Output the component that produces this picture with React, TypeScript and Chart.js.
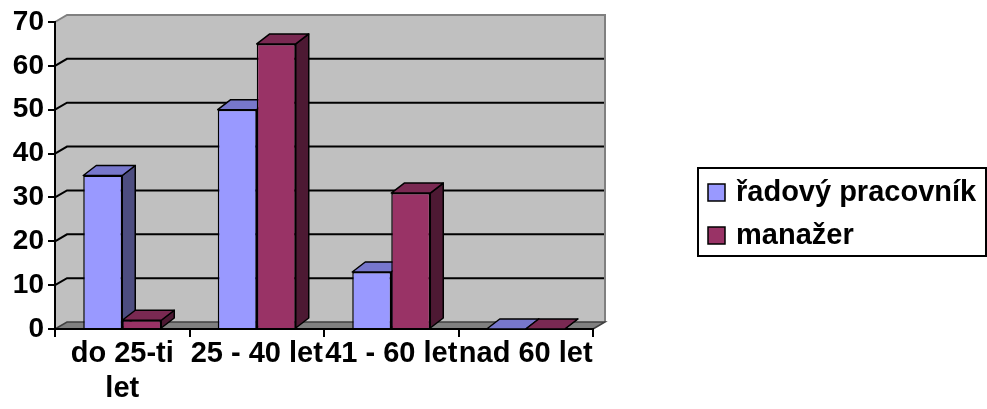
import React, { useEffect, useRef } from "react";
import { Chart, registerables } from "chart.js";

Chart.register(...registerables);

const categories: (string | string[])[] = [["do 25-ti", "let"], "25 - 40 let", "41 - 60 let", "nad 60 let"];
const seriesNames = ["řadový pracovník", "manažer"];
const radovyValues = [35, 50, 13, 0];
const manazerValues = [2, 65, 31, 0];
const yMin = 0;
const yMax = 70;
const yStep = 10;

const frontColors = ["#9999FF", "#993366"];
const topColors = ["#7777CC", "#7A2952"];
const sideColors = ["#4D4D80", "#4D1933"];

const FONT = "'Liberation Sans', Arial, sans-serif";
const WALL_DX = 12;
const WALL_DY = 7;
const BAR_DX = 13;
const BAR_DY = 10;

const wallPlugin = {
  id: "walls3d",
  beforeDraw(chart: any) {
    const { ctx, chartArea } = chart;
    const { left, right, top, bottom } = chartArea;
    const ys = chart.scales.y;
    ctx.save();
    ctx.fillStyle = "#C0C0C0";
    ctx.beginPath();
    ctx.moveTo(left, top);
    ctx.lineTo(left + WALL_DX, top - WALL_DY);
    ctx.lineTo(left + WALL_DX, bottom - WALL_DY);
    ctx.lineTo(left, bottom);
    ctx.closePath();
    ctx.fill();
    ctx.fillRect(left + WALL_DX, top - WALL_DY, right - left, bottom - top);
    ctx.fillStyle = "#808080";
    ctx.beginPath();
    ctx.moveTo(left, bottom);
    ctx.lineTo(left + WALL_DX, bottom - WALL_DY);
    ctx.lineTo(right + WALL_DX, bottom - WALL_DY);
    ctx.lineTo(right, bottom);
    ctx.closePath();
    ctx.fill();
    ctx.strokeStyle = "#000";
    ctx.lineWidth = 2;
    for (let v = yMin + yStep; v < yMax; v += yStep) {
      const y = ys.getPixelForValue(v);
      ctx.beginPath();
      ctx.moveTo(left, y);
      ctx.lineTo(left + WALL_DX, y - WALL_DY);
      ctx.lineTo(right + WALL_DX, y - WALL_DY);
      ctx.stroke();
    }
    ctx.strokeStyle = "#808080";
    ctx.lineWidth = 2;
    ctx.beginPath();
    ctx.moveTo(left, top);
    ctx.lineTo(left + WALL_DX, top - WALL_DY);
    ctx.lineTo(right + WALL_DX, top - WALL_DY);
    ctx.lineTo(right + WALL_DX, bottom - WALL_DY);
    ctx.stroke();
    ctx.strokeStyle = "#404040";
    ctx.lineWidth = 1.5;
    ctx.beginPath();
    ctx.moveTo(left, bottom);
    ctx.lineTo(left + WALL_DX, bottom - WALL_DY);
    ctx.lineTo(right + WALL_DX, bottom - WALL_DY);
    ctx.lineTo(right, bottom);
    ctx.stroke();
    ctx.restore();
  },
  beforeDatasetsDraw(chart: any) {
    const { ctx } = chart;
    ctx.save();
    ctx.strokeStyle = "#000";
    ctx.lineWidth = 1.5;
    ctx.lineJoin = "round";
    chart.data.datasets.forEach((_ds: any, di: number) => {
      const meta = chart.getDatasetMeta(di);
      meta.data.forEach((bar: any) => {
        const { x, y, base, width } = bar.getProps(["x", "y", "base", "width"], true);
        const l = x - width / 2;
        const r = x + width / 2;
        ctx.fillStyle = sideColors[di];
        ctx.beginPath();
        ctx.moveTo(r, y);
        ctx.lineTo(r + BAR_DX, y - BAR_DY);
        ctx.lineTo(r + BAR_DX, base - BAR_DY);
        ctx.lineTo(r, base);
        ctx.closePath();
        ctx.fill();
        ctx.stroke();
        ctx.fillStyle = topColors[di];
        ctx.beginPath();
        ctx.moveTo(l, y);
        ctx.lineTo(l + BAR_DX, y - BAR_DY);
        ctx.lineTo(r + BAR_DX, y - BAR_DY);
        ctx.lineTo(r, y);
        ctx.closePath();
        ctx.fill();
        ctx.stroke();
      });
    });
    ctx.restore();
  },
  afterDraw(chart: any) {
    const { ctx } = chart;
    ctx.save();
    const bx = 698, by = 168, bw = 288, bh = 88;
    ctx.strokeStyle = "#000";
    ctx.lineWidth = 2;
    ctx.strokeRect(bx, by, bw, bh);
    ctx.font = `bold 29px ${FONT}`;
    ctx.textBaseline = "alphabetic";
    ctx.textAlign = "left";
    chart.data.datasets.forEach((ds: any, i: number) => {
      const sy = by + 16 + i * 43;
      ctx.fillStyle = frontColors[i];
      ctx.fillRect(bx + 10, sy, 17, 17);
      ctx.lineWidth = 1.5;
      ctx.strokeRect(bx + 10, sy, 17, 17);
      ctx.fillStyle = "#000";
      ctx.fillText(ds.label, bx + 38, sy + 17);
    });
    ctx.restore();
  },
};

export default function App() {
  const ref = useRef<HTMLCanvasElement>(null);
  useEffect(() => {
    if (!ref.current) return;
    const chart = new Chart(ref.current, {
      type: "bar",
      data: {
        labels: categories,
        datasets: [
          {
            label: seriesNames[0],
            data: radovyValues,
            backgroundColor: frontColors[0],
            borderColor: "#000",
            borderWidth: 1.5,
            categoryPercentage: 0.58,
            barPercentage: 1,
          },
          {
            label: seriesNames[1],
            data: manazerValues,
            backgroundColor: frontColors[1],
            borderColor: "#000",
            borderWidth: 1.5,
            categoryPercentage: 0.58,
            barPercentage: 1,
          },
        ],
      },
      options: {
        animation: false,
        responsive: false,
        devicePixelRatio: 1,
        layout: { padding: { top: 22, right: 394, left: 0, bottom: 0 } },
        plugins: {
          legend: { display: false },
          tooltip: { enabled: false },
        },
        scales: {
          x: {
            offset: true,
            grid: {
              display: true,
              offset: true,
              drawOnChartArea: false,
              drawTicks: true,
              tickLength: 8,
              color: "#000",
              lineWidth: 2,
            },
            border: { display: true, color: "#000", width: 2 },
            ticks: {
              autoSkip: false,
              maxRotation: 0,
              minRotation: 0,
              color: "#000",
              padding: 0,
              font: { family: FONT, size: 29, weight: "bold", lineHeight: 1.2 },
            },
            afterFit: (s: any) => {
              s.height = 80;
            },
          },
          y: {
            min: yMin,
            max: yMax,
            grid: {
              display: true,
              drawOnChartArea: false,
              drawTicks: true,
              tickLength: 7,
              color: "#000",
              lineWidth: 2,
            },
            border: { display: true, color: "#000", width: 2 },
            ticks: {
              stepSize: yStep,
              color: "#000",
              padding: 4,
              font: { family: FONT, size: 28, weight: "bold" },
            },
            afterFit: (s: any) => {
              s.width = 55;
            },
          },
        },
      },
      plugins: [wallPlugin],
    });
    return () => chart.destroy();
  }, []);
  return (
    <div style={{ position: "fixed", left: 0, top: 0, width: 987, height: 409, background: "#fff" }}>
      <canvas ref={ref} width={987} height={409} style={{ display: "block" }} />
    </div>
  );
}
